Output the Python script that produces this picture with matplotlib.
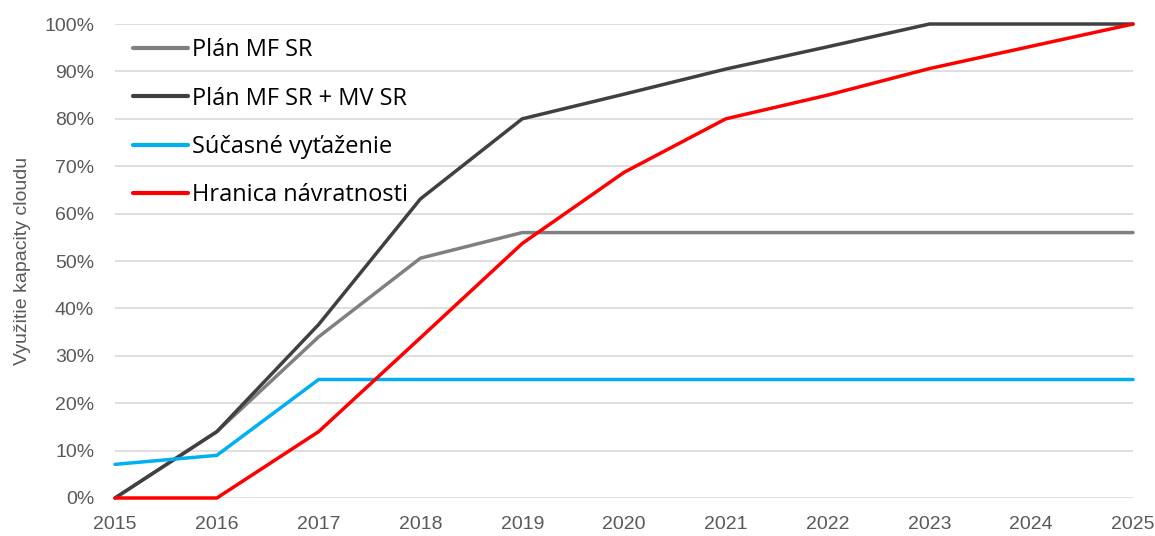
import matplotlib
matplotlib.use("Agg")
import matplotlib.pyplot as plt
from matplotlib.ticker import FuncFormatter

years = [2015, 2016, 2017, 2018, 2019, 2020, 2021, 2022, 2023, 2024, 2025]
plan_mf = [0, 14, 34, 50.6, 56, 56, 56, 56, 56, 56, 56]
plan_mf_mv = [0, 14, 36.6, 63.1, 80, 85.2, 90.5, 95.2, 100, 100, 100]
sucasne = [7.1, 9, 25, 25, 25, 25, 25, 25, 25, 25, 25]
hranica = [0, 0, 14, 33.8, 53.7, 68.7, 80, 85, 90.6, 95.3, 100]

labels = ["Plán MF SR", "Plán MF SR + MV SR", "Súčasné vyťaženie", "Hranica návratnosti"]
colors = ["#808080", "#404040", "#00B0F0", "#FF0000"]
yticks = [0, 10, 20, 30, 40, 50, 60, 70, 80, 90, 100]

tick_font = "Liberation Sans"

fig = plt.figure(figsize=(11.55, 5.36), dpi=100)
ax = fig.add_axes([0.0996, 0.0709, 0.8814, 0.8843])

for vals, lab, col in zip([plan_mf, plan_mf_mv, sucasne, hranica], labels, colors):
    ax.plot(years, vals, color=col, lw=2.5, label=lab, clip_on=False,
            solid_joinstyle="miter", solid_capstyle="round")

ax.set_xlim(2015, 2025)
ax.set_ylim(0, 100)
ax.set_xticks(years)
ax.set_yticks(yticks)
ax.yaxis.set_major_formatter(FuncFormatter(lambda v, p: f"{int(v)}%"))
ax.grid(axis="y", color="#d9d9d9", lw=1.2)
ax.set_axisbelow(True)
for s in ax.spines.values():
    s.set_visible(False)
ax.tick_params(axis="both", length=0, colors="#595959", labelsize=14)
ax.tick_params(axis="y", pad=15)
ax.tick_params(axis="x", pad=13)
for t in ax.get_xticklabels() + ax.get_yticklabels():
    t.set_fontfamily(tick_font)

ax.set_ylabel("Využitie kapacity cloudu", fontsize=14, color="#595959",
              fontfamily=tick_font)
ax.yaxis.set_label_coords(-0.083, 0.5)

leg = ax.legend(loc="upper left", bbox_to_anchor=(0.008, 0.99), frameon=False,
                prop={"family": "Open Sans", "size": 17},
                handlelength=2.33, handletextpad=0.2, labelspacing=1.03,
                borderaxespad=0)
for h in leg.get_lines():
    h.set_linewidth(3)

fig.savefig("out.png", dpi=100)
